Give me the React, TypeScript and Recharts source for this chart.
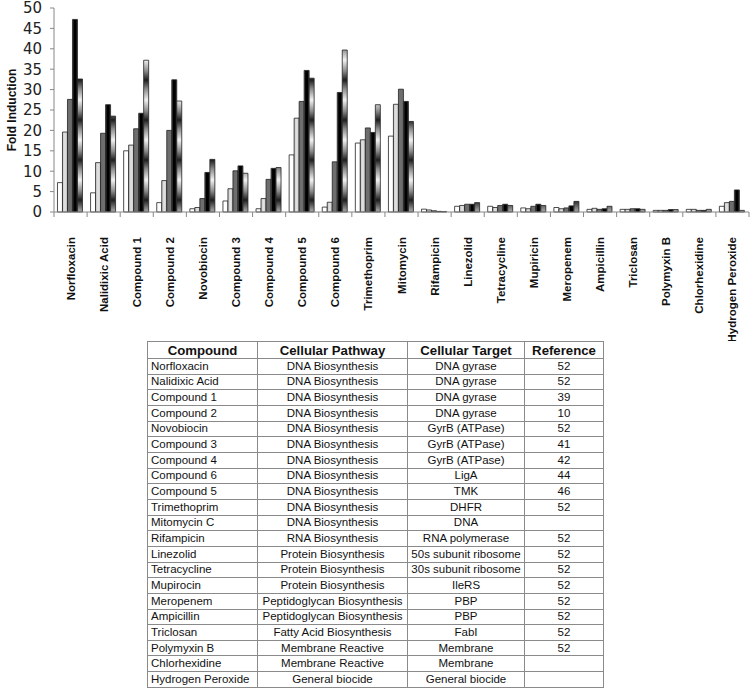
import React from 'react';
import { BarChart, Bar, XAxis, YAxis } from 'recharts';

const categories = [
  'Norfloxacin', 'Nalidixic Acid', 'Compound 1', 'Compound 2', 'Novobiocin',
  'Compound 3', 'Compound 4', 'Compound 5', 'Compound 6', 'Trimethoprim',
  'Mitomycin', 'Rifampicin', 'Linezolid', 'Tetracycline', 'Mupiricin',
  'Meropenem', 'Ampicillin', 'Triclosan', 'Polymyxin B', 'Chlorhexidine',
  'Hydrogen Peroxide',
];

const series1 = [7.2, 4.7, 15.0, 2.3, 0.8, 2.7, 0.8, 14.0, 1.2, 16.9, 18.6, 0.7, 1.4, 1.4, 1.0, 1.1, 0.65, 0.65, 0.4, 0.65, 1.4];
const series2 = [19.6, 12.1, 16.4, 7.7, 1.1, 5.7, 3.3, 23.0, 2.4, 17.7, 26.4, 0.5, 1.6, 1.1, 0.8, 0.8, 0.9, 0.65, 0.4, 0.65, 2.3];
const series3 = [27.6, 19.3, 20.4, 20.0, 3.3, 10.1, 8.0, 27.1, 12.3, 20.6, 30.1, 0.3, 1.9, 1.6, 1.4, 1.0, 0.65, 0.8, 0.4, 0.4, 2.6];
const series4 = [47.2, 26.3, 24.2, 32.4, 9.7, 11.3, 10.7, 34.7, 29.3, 19.5, 27.1, 0.15, 1.9, 1.9, 1.9, 1.5, 0.8, 0.8, 0.6, 0.4, 5.4];
const series5 = [32.6, 23.5, 37.2, 27.2, 12.9, 9.5, 10.9, 32.8, 39.7, 26.3, 22.2, 0.1, 2.3, 1.6, 1.6, 2.6, 1.4, 0.65, 0.6, 0.65, 0.4];

const yTicks = [0, 5, 10, 15, 20, 25, 30, 35, 40, 45, 50];

// table below the chart
const tableHeaders = ['Compound', 'Cellular Pathway', 'Cellular Target', 'Reference'];
const tableCompounds = [
  'Norfloxacin', 'Nalidixic Acid', 'Compound 1', 'Compound 2', 'Novobiocin',
  'Compound 3', 'Compound 4', 'Compound 6', 'Compound 5', 'Trimethoprim',
  'Mitomycin C', 'Rifampicin', 'Linezolid', 'Tetracycline', 'Mupirocin',
  'Meropenem', 'Ampicillin', 'Triclosan', 'Polymyxin B', 'Chlorhexidine',
  'Hydrogen Peroxide',
];
const tablePathways = [
  'DNA Biosynthesis', 'DNA Biosynthesis', 'DNA Biosynthesis', 'DNA Biosynthesis',
  'DNA Biosynthesis', 'DNA Biosynthesis', 'DNA Biosynthesis', 'DNA Biosynthesis',
  'DNA Biosynthesis', 'DNA Biosynthesis', 'DNA Biosynthesis', 'RNA Biosynthesis',
  'Protein Biosynthesis', 'Protein Biosynthesis', 'Protein Biosynthesis',
  'Peptidoglycan Biosynthesis', 'Peptidoglycan Biosynthesis', 'Fatty Acid Biosynthesis',
  'Membrane Reactive', 'Membrane Reactive', 'General biocide',
];
const tableTargets = [
  'DNA gyrase', 'DNA gyrase', 'DNA gyrase', 'DNA gyrase', 'GyrB (ATPase)',
  'GyrB (ATPase)', 'GyrB (ATPase)', 'LigA', 'TMK', 'DHFR', 'DNA',
  'RNA polymerase', '50s subunit ribosome', '30s subunit ribosome', 'IleRS',
  'PBP', 'PBP', 'FabI', 'Membrane', 'Membrane', 'General biocide',
];
const tableRefs = ['52', '52', '39', '10', '52', '41', '42', '44', '46', '52', '', '52', '52', '52', '52', '52', '52', '52', '52', '', ''];

const data = categories.map((name, i) => ({
  name,
  s1: series1[i],
  s2: series2[i],
  s3: series3[i],
  s4: series4[i],
  s5: series5[i],
}));

const PLOT_LEFT = 54;
const PLOT_RIGHT = 749;
const BAND = (PLOT_RIGHT - PLOT_LEFT) / categories.length;

const CategoryTick = (props: any) => {
  const { x, y, payload, index } = props;
  const isLast = index === categories.length - 1;
  return (
    <g>
      <line x1={x - BAND / 2} y1={y - 8} x2={x - BAND / 2} y2={y - 3} stroke="#888" />
      {isLast && <line x1={x + BAND / 2} y1={y - 8} x2={x + BAND / 2} y2={y - 3} stroke="#888" />}
      <text
        transform={`translate(${x + 4},${y + 17}) rotate(-90)`}
        textAnchor="end"
        fontFamily="'Liberation Sans', Arial, sans-serif"
        fontWeight="bold"
        fontSize={11.5}
        fill="#111"
      >
        {payload.value}
      </text>
    </g>
  );
};

const barStroke = '#222';

const cellStyle: React.CSSProperties = {
  border: '1px solid #8a8a8a',
  padding: '0 3px',
  textAlign: 'center',
  whiteSpace: 'nowrap',
  lineHeight: '13px',
  overflow: 'hidden',
};

export default function App() {
  return (
    <div style={{ position: 'absolute', left: 0, top: 0, width: 750, height: 689, background: '#fff', overflow: 'hidden' }}>
      <BarChart
        width={750}
        height={341}
        data={data}
        margin={{ top: 8, right: 1, left: 0, bottom: 0 }}
        barCategoryGap="10.5%"
        barGap={0}
      >
        <defs>
          <linearGradient id="blackGrad" x1="0" y1="0" x2="1" y2="0">
            <stop offset="0" stopColor="#555" />
            <stop offset="0.3" stopColor="#000" />
            <stop offset="0.7" stopColor="#000" />
            <stop offset="1" stopColor="#444" />
          </linearGradient>
          <linearGradient id="lightGrad" x1="0" y1="0" x2="1" y2="0">
            <stop offset="0" stopColor="#c8c8c8" />
            <stop offset="0.5" stopColor="#e2e2e2" />
            <stop offset="1" stopColor="#c8c8c8" />
          </linearGradient>
          <linearGradient id="bandGrad" gradientUnits="userSpaceOnUse" x1="0" y1="0" x2="0" y2="20" spreadMethod="reflect">
            <stop offset="0" stopColor="#1e1e1e" />
            <stop offset="0.45" stopColor="#8c8c8c" />
            <stop offset="1" stopColor="#f2f2f2" />
          </linearGradient>
        </defs>
        <XAxis
          dataKey="name"
          interval={0}
          height={129}
          tickLine={false}
          axisLine={{ stroke: '#888' }}
          tick={<CategoryTick />}
        />
        <YAxis
          width={54}
          domain={[0, 50]}
          ticks={yTicks}
          interval={0}
          tickSize={4}
          tickMargin={8}
          axisLine={{ stroke: '#888' }}
          tickLine={{ stroke: '#888' }}
          tick={{ fontFamily: "'DejaVu Sans', sans-serif", fontSize: 15, fill: '#222' }}
          label={{
            value: 'Fold Induction',
            angle: -90,
            position: 'insideLeft',
            offset: 12,
            style: { fontFamily: "'Liberation Sans', Arial, sans-serif", fontWeight: 'bold', fontSize: 12, fill: '#111', textAnchor: 'middle' },
          }}
        />
        <Bar dataKey="s1" fill="#ffffff" stroke={barStroke} strokeWidth={0.8} isAnimationActive={false} />
        <Bar dataKey="s2" fill="url(#lightGrad)" stroke={barStroke} strokeWidth={0.8} isAnimationActive={false} />
        <Bar dataKey="s3" fill="#6e6e6e" stroke={barStroke} strokeWidth={0.8} isAnimationActive={false} />
        <Bar dataKey="s4" fill="url(#blackGrad)" stroke={barStroke} strokeWidth={0.8} isAnimationActive={false} />
        <Bar dataKey="s5" fill="url(#bandGrad)" stroke={barStroke} strokeWidth={0.8} isAnimationActive={false} />
      </BarChart>

      <table
        style={{
          position: 'absolute',
          left: 147,
          top: 341,
          width: 456,
          borderCollapse: 'collapse',
          tableLayout: 'fixed',
          fontFamily: "'Liberation Sans', Arial, sans-serif",
          fontSize: 11.5,
          color: '#111',
        }}
      >
        <colgroup>
          <col style={{ width: 110 }} />
          <col style={{ width: 150 }} />
          <col style={{ width: 117 }} />
          <col style={{ width: 79 }} />
        </colgroup>
        <thead>
          <tr style={{ height: 17 }}>
            {tableHeaders.map((h) => (
              <th key={h} style={{ ...cellStyle, fontSize: 13.2, fontWeight: 'bold' }}>{h}</th>
            ))}
          </tr>
        </thead>
        <tbody>
          {tableCompounds.map((c, i) => (
            <tr key={c} style={{ height: 15.67 }}>
              <td style={{ ...cellStyle, textAlign: 'left' }}>{c}</td>
              <td style={cellStyle}>{tablePathways[i]}</td>
              <td style={cellStyle}>{tableTargets[i]}</td>
              <td style={cellStyle}>{tableRefs[i]}</td>
            </tr>
          ))}
        </tbody>
      </table>
    </div>
  );
}
